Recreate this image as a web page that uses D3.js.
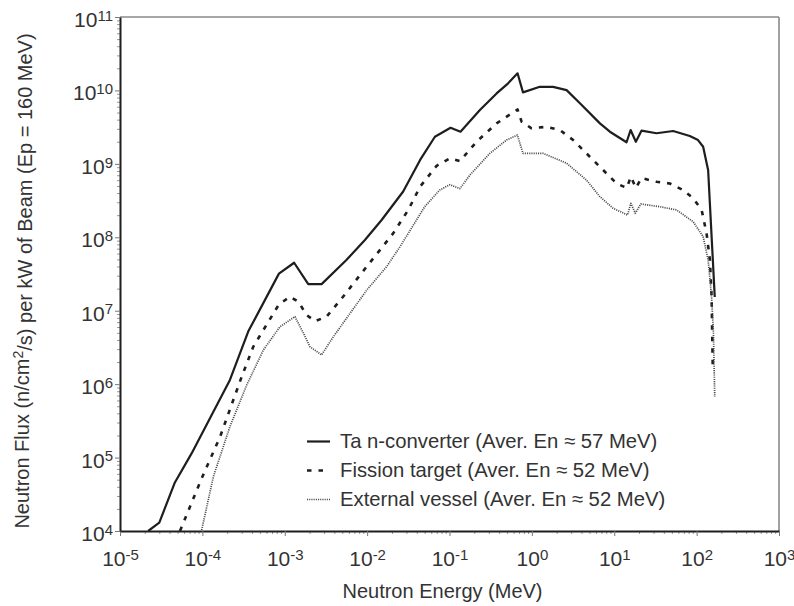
<!DOCTYPE html>
<html>
<head>
<meta charset="utf-8">
<script src="https://cdn.jsdelivr.net/npm/d3@7"></script>
<style>
body{margin:0;background:#fff;}
text{font-family:"Liberation Sans",Arial,sans-serif;}
</style>
</head>
<body>
<svg width="794" height="606"></svg>
<script>
// neutron energy (MeV) and flux per kW of beam
var taEnergy = [2.2e-5, 3.0e-5, 4.6e-5, 7.4e-5, 2.16e-4, 3.6e-4, 8.5e-4, 1.3e-3, 1.93e-3, 2.8e-3, 5.6e-3, 9.4e-3,
	1.5e-2, 2.74e-2, 4.4e-2, 6.65e-2, 0.103, 0.136, 0.234, 0.373, 0.515, 0.67, 0.78, 1.25, 1.81, 2.64, 3.83,
	6.7, 8.85, 14.1, 15.8, 18.3, 21.4, 32.6, 51.9, 82.6, 104, 120, 138, 166];
var taFlux = [1.0e4, 1.3e4, 4.5e4, 1.14e5, 1.14e6, 5.2e6, 3.2e7, 4.5e7, 2.3e7, 2.3e7, 4.9e7, 9.2e7,
	1.72e8, 4.2e8, 1.13e9, 2.34e9, 3.1e9, 2.74e9, 5.4e9, 9.1e9, 1.25e10, 1.71e10, 9.4e9, 1.12e10, 1.12e10, 1.01e10, 6.7e9,
	3.56e9, 2.74e9, 1.97e9, 2.89e9, 2.0e9, 2.83e9, 2.61e9, 2.8e9, 2.39e9, 2.11e9, 1.71e9, 8.2e8, 1.54e7];

var fisEnergy = [5.35e-5, 9.8e-5, 1.64e-4, 3.0e-4, 4.15e-4, 8.5e-4, 1.16e-3, 1.46e-3, 1.85e-3, 2.33e-3, 3.22e-3, 5.1e-3,
	9.9e-3, 2.07e-2, 3.16e-2, 4.4e-2, 6.97e-2, 0.101, 0.134, 0.213, 0.373, 0.541, 0.67, 0.75, 0.99, 1.51, 2.19, 3.17,
	6.7, 10.7, 14.2, 15.9, 18.3, 21.4, 32.6, 47.3, 68.5, 90.8, 115, 132, 145, 152, 157];
var fisFlux = [1.0e4, 5.2e4, 1.92e5, 1.26e6, 3.24e6, 1.22e7, 1.55e7, 1.33e7, 8.7e6, 7.2e6, 8.3e6, 1.55e7,
	4.0e7, 1.13e8, 2.36e8, 4.9e8, 9.4e8, 1.19e9, 1.09e9, 2.0e9, 3.56e9, 4.7e9, 5.5e9, 3.75e9, 3.05e9, 3.2e9, 2.89e9, 2.11e9,
	9.1e8, 5.4e8, 4.7e8, 6.7e8, 4.7e8, 6.4e8, 5.7e8, 5.4e8, 4.4e8, 3.4e8, 2.36e8, 1.13e8, 4.9e7, 1.55e7, 1.66e6];

var extEnergy = [9.8e-5, 1.36e-4, 2.16e-4, 3.45e-4, 5.5e-4, 8.75e-4, 1.33e-3, 1.68e-3, 2.02e-3, 2.8e-3, 3.88e-3, 6.2e-3,
	9.9e-3, 1.73e-2, 2.5e-2, 5.0e-2, 7.6e-2, 0.101, 0.134, 0.177, 0.309, 0.493, 0.667, 0.78, 1.37, 2.64, 4.61,
	6.7, 9.7, 14.5, 15.9, 18.0, 21.0, 35.7, 57.0, 90.8, 120, 138, 152, 160, 166];
var extFlux = [1.03e4, 5.5e4, 2.64e5, 9.7e5, 2.92e6, 6.05e6, 8.3e6, 4.98e6, 3.24e6, 2.5e6, 4.4e6, 9.2e6,
	1.91e7, 4.0e7, 7.4e7, 2.61e8, 4.4e8, 5.2e8, 4.6e8, 7.05e8, 1.39e9, 2.11e9, 2.47e9, 1.39e9, 1.39e9, 1.02e9, 6.0e8,
	3.57e8, 2.48e8, 2.01e8, 2.9e8, 2.12e8, 2.84e8, 2.61e8, 2.36e8, 1.63e8, 1.02e8, 4.9e7, 1.55e7, 4.98e6, 6.7e5];

var seriesNames = ["Ta n-converter (Aver. En \u2248 57 MeV)",
	"Fission target (Aver. En \u2248 52 MeV)",
	"External vessel (Aver. En \u2248 52 MeV)"];
var xDecades = [-5, -4, -3, -2, -1, 0, 1, 2, 3];
var yDecades = [4, 5, 6, 7, 8, 9, 10, 11];

var m = {top:17, right:15, bottom:75, left:120};
var W = 794, H = 606;

var svg = d3.select("svg");
var x = d3.scaleLog().domain([1e-5, 1e3]).range([m.left, W - m.right]);
var y = d3.scaleLog().domain([1e4, 1e11]).range([H - m.bottom, m.top]);

var styles = [
	{stroke:"#1e1e1e", width:2.2, dash:null},
	{stroke:"#1e1e1e", width:2.6, dash:"4.5,7"},
	{stroke:"#4a4a4a", width:1.7, dash:"1.1,1.1"}
];
var series = [
	d3.zip(taEnergy, taFlux),
	d3.zip(fisEnergy, fisFlux),
	d3.zip(extEnergy, extFlux)
];

function minorTicks(decades){
	var out = [];
	decades.slice(0, -1).forEach(function(d){
		for(var k = 2; k < 10; k++) out.push(k * Math.pow(10, d));
	});
	return out;
}
var xMajor = xDecades.map(d => Math.pow(10, d));
var yMajor = yDecades.map(d => Math.pow(10, d));

// frame top / right
svg.append("line").attr("x1", m.left).attr("x2", W - m.right).attr("y1", m.top).attr("y2", m.top)
	.attr("stroke", "#8a8a8a").attr("stroke-width", 1.6);
svg.append("line").attr("x1", W - m.right).attr("x2", W - m.right).attr("y1", m.top).attr("y2", H - m.bottom)
	.attr("stroke", "#8a8a8a").attr("stroke-width", 1.6);

// minor ticks
svg.append("g").attr("transform", "translate(0," + (H - m.bottom) + ")")
	.call(d3.axisBottom(x).tickValues(minorTicks(xDecades)).tickSize(3).tickFormat(""))
	.call(g => g.select(".domain").remove())
	.selectAll("line").attr("stroke", "#999");
svg.append("g").attr("transform", "translate(" + m.left + ",0)")
	.call(d3.axisLeft(y).tickValues(minorTicks(yDecades)).tickSize(3).tickFormat(""))
	.call(g => g.select(".domain").remove())
	.selectAll("line").attr("stroke", "#999");

function powerLabels(g){
	g.selectAll(".tick text").each(function(d){
		var t = d3.select(this);
		t.append("tspan").text("10");
		t.append("tspan").attr("dy", "-0.42em").style("font-size", "15px").text(Math.round(Math.log10(d)));
	}).attr("fill", "#333").style("font-size", "21px");
}

var xAxisGroup = svg.append("g").attr("transform", "translate(0," + (H - m.bottom) + ")")
	.call(d3.axisBottom(x).tickValues(xMajor).tickSize(5).tickSizeOuter(0).tickPadding(15).tickFormat(() => ""));
xAxisGroup.call(powerLabels);
xAxisGroup.select(".domain").attr("stroke", "#1e1e1e").attr("stroke-width", 2);
xAxisGroup.selectAll(".tick line").attr("stroke", "#777");

var yAxisGroup = svg.append("g").attr("transform", "translate(" + m.left + ",0)")
	.call(d3.axisLeft(y).tickValues(yMajor).tickSize(5).tickSizeOuter(0).tickPadding(2).tickFormat(() => ""));
yAxisGroup.call(powerLabels);
yAxisGroup.selectAll(".tick text").attr("dy", "0.45em");
yAxisGroup.select(".domain").attr("stroke", "#1e1e1e").attr("stroke-width", 2);
yAxisGroup.selectAll(".tick line").attr("stroke", "#777");

// curves
svg.append("clipPath").attr("id", "plot").append("rect")
	.attr("x", m.left).attr("y", m.top).attr("width", W - m.left - m.right).attr("height", H - m.top - m.bottom);
var line = d3.line().x(d => x(d[0])).y(d => y(d[1]));
svg.append("g").attr("clip-path", "url(#plot)")
	.selectAll("path").data(series).enter().append("path")
	.attr("d", line)
	.attr("fill", "none")
	.attr("stroke", (d, i) => styles[i].stroke)
	.attr("stroke-width", (d, i) => styles[i].width)
	.attr("stroke-dasharray", (d, i) => styles[i].dash)
	.attr("stroke-linejoin", "round");

// legend
var legend = svg.append("g").attr("transform", "translate(307,448)");
var rows = legend.selectAll("g").data(seriesNames).enter().append("g")
	.attr("transform", (d, i) => "translate(0," + i * 29 + ")");
rows.append("line").attr("x1", 0).attr("x2", 23).attr("y1", -6.5).attr("y2", -6.5)
	.attr("stroke", (d, i) => styles[i].stroke)
	.attr("stroke-width", (d, i) => styles[i].width)
	.attr("stroke-dasharray", (d, i) => styles[i].dash);
rows.append("text").attr("x", 33).attr("fill", "#333").style("font-size", "20.3px").text(d => d);

// axis titles
svg.append("text").attr("x", (m.left + W - m.right) / 2 - 7).attr("y", 598)
	.attr("text-anchor", "middle").attr("fill", "#333").style("font-size", "20px")
	.text("Neutron Energy (MeV)");
var yTitle = svg.append("text").attr("transform", "translate(29,281) rotate(-90)")
	.attr("text-anchor", "middle").attr("fill", "#333").style("font-size", "20px");
yTitle.append("tspan").text("Neutron Flux (n/cm");
yTitle.append("tspan").attr("dy", "-0.42em").style("font-size", "14px").text("2");
yTitle.append("tspan").attr("dy", "0.42em").text("/s) per kW of Beam (Ep = 160 MeV)");
</script>
</body>
</html>
